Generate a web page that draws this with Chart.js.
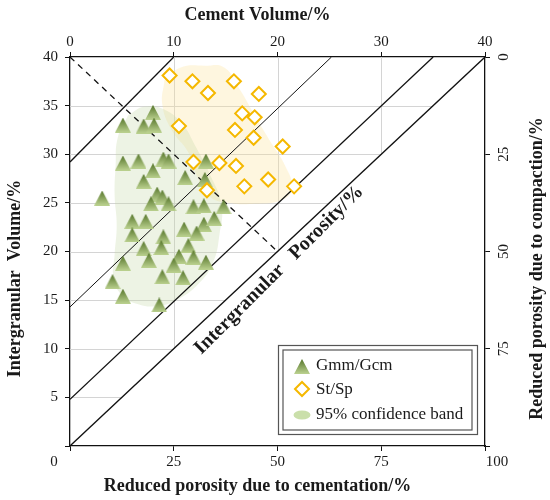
<!DOCTYPE html>
<html>
<head>
<meta charset="utf-8">
<script src="https://cdn.jsdelivr.net/npm/chart.js@4.4.1/dist/chart.umd.min.js"></script>
<style>
  html, body { margin: 0; padding: 0; background: #fff; }
</style>
</head>
<body>
<canvas id="chart" width="550" height="500"></canvas>
<script>
// Gmm/Gcm samples: cement volume (%) and intergranular volume (%)
const gmmCement = [8.0, 5.1, 7.1, 8.1, 5.1, 6.6, 9.0, 9.5, 8.0, 7.1, 11.1, 13.1, 13.0, 3.1, 8.4, 8.9, 7.8, 9.5, 11.9, 12.9, 14.8, 6.0,
  7.3, 11.0, 12.9, 13.9, 12.2, 6.0, 9.0, 11.4, 7.1, 8.8, 10.5, 11.9, 7.6, 5.1, 13.1, 10.0, 8.9, 10.9, 4.1, 5.1, 8.6];
const gmmIgv = [34.3, 33.0, 32.9, 33.0, 29.1, 29.3, 29.5, 29.3, 28.3, 27.2, 27.6, 29.3, 27.4, 25.5, 25.9, 25.6, 24.9, 24.9, 24.6, 24.7, 24.6, 23.1,
  23.1, 22.3, 22.8, 23.4, 21.9, 21.7, 21.5, 20.6, 20.3, 20.4, 19.5, 19.4, 19.1, 18.8, 18.9, 18.6, 17.4, 17.3, 16.9, 15.4, 14.5];

// St/Sp samples
const stCement = [9.6, 11.8, 13.3, 15.8, 18.2, 10.5, 16.6, 17.8, 15.9, 17.7, 20.5, 11.9, 14.4, 16.0, 19.1, 16.8, 21.6, 13.2];
const stIgv = [38.1, 37.5, 36.3, 37.5, 36.2, 32.9, 34.2, 33.8, 32.5, 31.7, 30.8, 29.2, 29.1, 28.8, 27.4, 26.7, 26.7, 26.3];

// 95% confidence band outlines (cement, IGV)
const gmmBandCement = [5.6, 7.2, 9.1, 10.9, 12.0, 13.5, 14.6, 14.4, 13.8, 12.5, 10.6, 8.5, 6.5, 5.0, 4.2, 4.3, 4.5, 4.3, 4.4, 4.6];
const gmmBandIgv = [34.0, 34.9, 34.6, 33.0, 31.0, 27.9, 24.8, 21.7, 18.9, 16.8, 15.2, 14.4, 14.6, 15.5, 17.3, 19.7, 22.7, 25.8, 28.9, 31.7];
const stBandCement = [9.1, 10.6, 13.0, 14.9, 16.4, 17.8, 19.2, 20.7, 21.4, 20.4, 17.8, 15.4, 13.5, 12.3, 11.4, 9.8, 8.9];
const stBandIgv = [37.6, 38.9, 39.1, 38.9, 36.6, 34.0, 31.5, 28.9, 26.5, 25.3, 24.9, 25.0, 25.6, 27.6, 30.2, 32.5, 35.1];

// intergranular porosity lines: IGV at zero cement -> cement at IGV 40
const poroLineStart = [29.2, 14.3, 4.8, 0];
const poroLineEnd = [10, 25.2, 35, 40];
// dashed guide line
const dashCement = [0, 20];
const dashIgv = [40, 20];

const serif = "'Liberation Serif', 'Times New Roman', serif";

const toPoints = (xs, ys) => xs.map((x, i) => ({ x: x, y: ys[i] }));
const closed = (xs, ys) => { const p = toPoints(xs, ys); p.push(p[0]); return p; };

// triangle marker with gradient
function makeTriangle(w, h) {
  const c = document.createElement("canvas");
  c.width = w; c.height = h;
  const g = c.getContext("2d");
  const grad = g.createLinearGradient(0, 0, 0, h);
  grad.addColorStop(0, "#55752a");
  grad.addColorStop(1, "#bcd290");
  g.fillStyle = grad;
  g.beginPath();
  g.moveTo(w / 2, 0);
  g.lineTo(w, h);
  g.lineTo(0, h);
  g.closePath();
  g.fill();
  return c;
}
const triangle = makeTriangle(16, 15);

const datasets = [
  {
    type: "scatter", label: "Gmm/Gcm", data: toPoints(gmmCement, gmmIgv),
    pointStyle: triangle, pointRadius: 8, order: 1,
  },
  {
    type: "scatter", label: "St/Sp", data: toPoints(stCement, stIgv),
    pointStyle: "rectRot", pointRadius: 7, borderColor: "#F5B800", backgroundColor: "#fff", borderWidth: 2, order: 0,
  },
  {
    type: "line", data: closed(gmmBandCement, gmmBandIgv), fill: "shape", tension: 0.45,
    backgroundColor: "rgba(195,215,165,0.3)", borderWidth: 0, pointRadius: 0, order: 10,
  },
  {
    type: "line", data: closed(stBandCement, stBandIgv), fill: "shape", tension: 0.45,
    backgroundColor: "rgba(252,226,150,0.3)", borderWidth: 0, pointRadius: 0, order: 10,
  },
  {
    type: "line", data: toPoints(dashCement, dashIgv), borderColor: "#111", borderWidth: 1.3,
    borderDash: [6, 5], pointRadius: 0, fill: false, order: 5,
  },
];
poroLineStart.forEach((y0, i) => {
  datasets.push({
    type: "line", data: [{ x: 0, y: y0 }, { x: poroLineEnd[i], y: 40 }],
    borderColor: "#111", borderWidth: i === 1 ? 1 : 1.3, pointRadius: 0, fill: false, order: 5,
  });
});

// grid lines only above the zero-porosity diagonal
const clippedGrid = {
  id: "clippedGrid",
  beforeDatasetsDraw(chart) {
    const ctx = chart.ctx;
    const xs = chart.scales.x, ys = chart.scales.y;
    ctx.save();
    ctx.strokeStyle = "#d4d4d4";
    ctx.lineWidth = 1;
    ys.ticks.forEach(t => {
      if (t.value <= ys.min || t.value >= ys.max) return;
      const py = Math.round(ys.getPixelForValue(t.value)) + 0.5;
      ctx.beginPath();
      ctx.moveTo(xs.getPixelForValue(xs.min), py);
      ctx.lineTo(xs.getPixelForValue(t.value), py);
      ctx.stroke();
    });
    xs.ticks.forEach(t => {
      if (t.value <= xs.min || t.value >= xs.max) return;
      const px = Math.round(xs.getPixelForValue(t.value)) + 0.5;
      ctx.beginPath();
      ctx.moveTo(px, ys.getPixelForValue(ys.max));
      ctx.lineTo(px, ys.getPixelForValue(t.value));
      ctx.stroke();
    });
    ctx.restore();
  },
};

// axis titles, corner labels, diagonal label and legend
const decorations = {
  id: "decorations",
  afterDraw(chart) {
    const ctx = chart.ctx;
    const a = chart.chartArea;
    const cx = (a.left + a.right) / 2;
    const cy = (a.top + a.bottom) / 2;
    const xb = chart.scales.xb;
    ctx.save();
    ctx.fillStyle = "#1a1a1a";
    ctx.textBaseline = "middle";
    ctx.textAlign = "center";

    // bottom corner tick labels
    ctx.font = "15px " + serif;
    ctx.fillText("0", xb.getPixelForValue(0) - 16, a.bottom + 16);
    ctx.fillText("100", xb.getPixelForValue(100) + 12, a.bottom + 16);

    ctx.font = "bold 18px " + serif;
    ctx.fillText("Cement Volume/%", cx - 20, 15);
    ctx.fillText("Reduced porosity due to cementation/%", cx - 20, 486);

    ctx.save();
    ctx.translate(15, cy + 27);
    ctx.rotate(-Math.PI / 2);
    ctx.fillText("Intergranular  Volume/%", 0, 0);
    ctx.restore();

    ctx.save();
    ctx.translate(537, cy + 17);
    ctx.rotate(-Math.PI / 2);
    ctx.fillText("Reduced porosity due to compaction/%", 0, 0);
    ctx.restore();

    ctx.save();
    ctx.font = "bold 20px " + serif;
    ctx.translate(a.left + 209, a.top + 213);
    ctx.rotate(-Math.PI / 4);
    ctx.fillText("Intergranular   Porosity/%", 0, 0);
    ctx.restore();

    // legend
    const bx = a.right - 207, by = a.bottom - 101;
    ctx.fillStyle = "#fff";
    ctx.fillRect(bx, by, 199, 89);
    ctx.strokeStyle = "#555";
    ctx.lineWidth = 1.2;
    ctx.strokeRect(bx + 0.5, by + 0.5, 199, 89);
    ctx.strokeRect(bx + 5, by + 5, 189, 80);

    const mx = bx + 24;
    ctx.drawImage(triangle, mx - 8, by + 14);
    ctx.beginPath();
    ctx.moveTo(mx - 7, by + 44);
    ctx.lineTo(mx, by + 37);
    ctx.lineTo(mx + 7, by + 44);
    ctx.lineTo(mx, by + 51);
    ctx.closePath();
    ctx.fillStyle = "#fff";
    ctx.fill();
    ctx.strokeStyle = "#F5B800";
    ctx.lineWidth = 2;
    ctx.stroke();
    ctx.beginPath();
    ctx.ellipse(mx, by + 70, 8.5, 4.5, 0, 0, Math.PI * 2);
    ctx.fillStyle = "#cadfaa";
    ctx.fill();

    ctx.fillStyle = "#1a1a1a";
    ctx.textAlign = "left";
    ctx.font = "17px " + serif;
    ctx.fillText("Gmm/Gcm", bx + 38, by + 21);
    ctx.fillText("St/Sp", bx + 38, by + 45);
    ctx.fillText("95% confidence band", bx + 38, by + 70);
    ctx.restore();
  },
};

const tickFont = { family: serif, size: 15 };
const axisGrid = { drawOnChartArea: false, drawTicks: true, tickLength: 5, color: "#111" };
const axisBorder = { display: true, color: "#111", width: 1.3 };

new Chart(document.getElementById("chart").getContext("2d"), {
  type: "scatter",
  data: { datasets: datasets },
  options: {
    responsive: false,
    animation: false,
    events: [],
    layout: { padding: 0 },
    plugins: { legend: { display: false }, tooltip: { enabled: false } },
    scales: {
      x: {
        type: "linear", position: "top", min: 0, max: 40,
        ticks: { stepSize: 10, font: tickFont, color: "#1a1a1a", padding: 1 },
        grid: axisGrid, border: axisBorder,
        afterFit: s => { s.height = 57; },
      },
      xb: {
        type: "linear", position: "bottom", min: 0, max: 100,
        ticks: { stepSize: 25, font: tickFont, color: "#1a1a1a", padding: 2,
          callback: v => (v === 0 || v === 100 ? "" : v) },
        grid: axisGrid, border: axisBorder,
        afterFit: s => { s.height = 54; },
      },
      y: {
        type: "linear", position: "left", min: 0, max: 40,
        ticks: { stepSize: 5, font: tickFont, color: "#1a1a1a", padding: 7,
          callback: v => (v === 0 ? "" : v) },
        grid: axisGrid, border: axisBorder,
        afterFit: s => { s.width = 70; },
      },
      yr: {
        type: "linear", position: "right", min: 0, max: 100, reverse: true,
        ticks: { stepSize: 25, font: tickFont, color: "#1a1a1a", padding: 7, minRotation: 90, maxRotation: 90,
          crossAlign: "center", callback: v => (v === 100 ? "" : v) },
        grid: axisGrid, border: axisBorder,
        afterFit: s => { s.width = 65; },
      },
    },
  },
  plugins: [clippedGrid, decorations],
});
</script>
</body>
</html>
